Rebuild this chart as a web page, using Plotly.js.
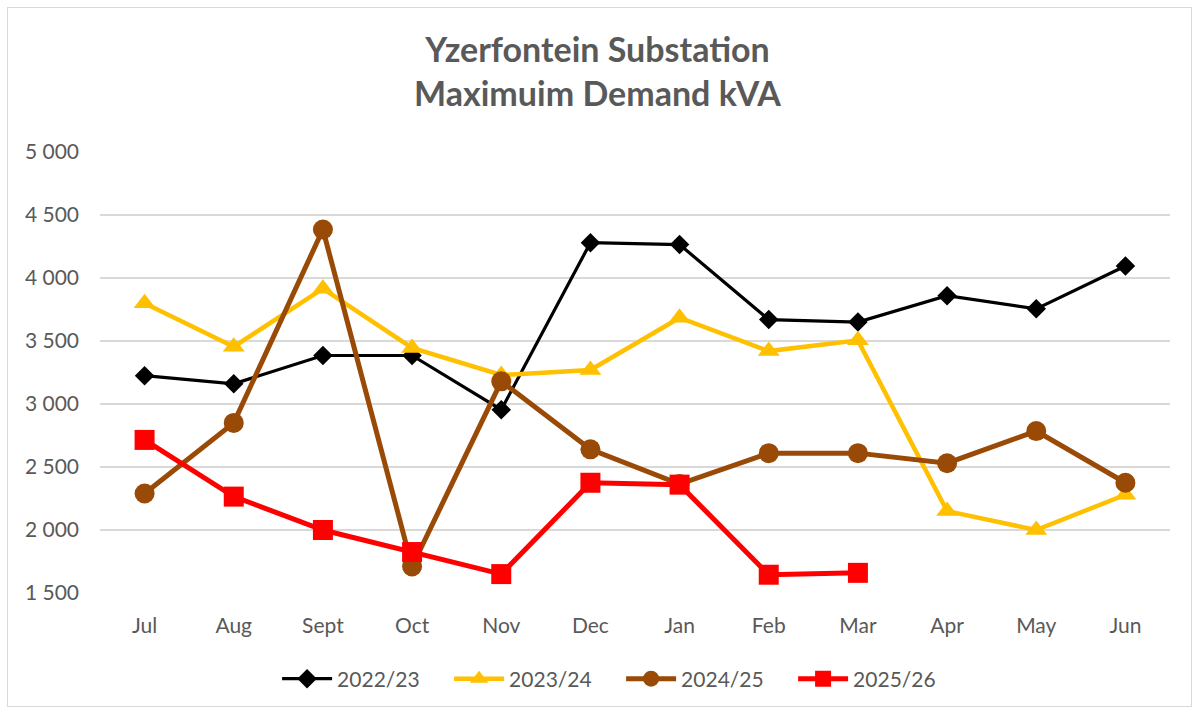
<!DOCTYPE html>
<html>
<head>
<meta charset="utf-8">
<script src="https://cdn.plot.ly/plotly-3.0.1.min.js"></script>
<style>
html,body{margin:0;padding:0;background:#fff;}
#wrap{position:absolute;left:7px;top:7px;width:1185px;height:700px;border:1px solid #d9d9d9;box-sizing:border-box;}
#chart{position:absolute;left:0;top:0;width:1195px;height:711px;}
</style>
</head>
<body>
<div id="wrap"></div>
<div id="chart"></div>
<script>
const months = ["Jul","Aug","Sept","Oct","Nov","Dec","Jan","Feb","Mar","Apr","May","Jun"];
const s2022 = [3225,3160,3385,3385,2955,4280,4265,3670,3650,3860,3755,4095];
const s2023 = [3800,3455,3915,3445,3230,3270,3685,3420,3505,2150,2000,2280];
const s2024 = [2290,2850,4385,1710,3180,2640,2365,2610,2610,2530,2785,2375];
const s2025 = [2715,2265,2000,1825,1650,2375,2360,1645,1660];
const seriesNames = ["2022/23","2023/24","2024/25","2025/26"];

const font = "Lato, 'Open Sans', 'Liberation Sans', sans-serif";
const traces = [
  {x: months, y: s2022, name: seriesNames[0], type:'scatter', mode:'lines+markers',
   line:{color:'#000000', width:3.2}, marker:{symbol:'diamond', size:15, color:'#000000'}},
  {x: months, y: s2023, name: seriesNames[1], type:'scatter', mode:'lines+markers',
   line:{color:'#FFC000', width:4.5}, marker:{symbol:'triangle-up', size:19, color:'#FFC000'}},
  {x: months.slice(0, s2024.length), y: s2024, name: seriesNames[2], type:'scatter', mode:'lines+markers',
   line:{color:'#994A06', width:5}, marker:{symbol:'circle', size:20, color:'#994A06'}},
  {x: months.slice(0, s2025.length), y: s2025, name: seriesNames[3], type:'scatter', mode:'lines+markers',
   line:{color:'#FF0000', width:5}, marker:{symbol:'square', size:20, color:'#FF0000'}}
];

const layout = {
  width: 1195, height: 711,
  paper_bgcolor: 'rgba(0,0,0,0)', plot_bgcolor: 'rgba(0,0,0,0)',
  margin: {l:100, r:25, t:152, b:118},
  separators: '. ',
  font: {family: font, color:'#595959', size:21},
  title: {text: '<b>Yzerfontein Substation<br>Maximuim Demand kVA</b>', x:0.5, xanchor:'center',
          yref:'container', y:0.913, yanchor:'top',
          font:{family: font, size:34, color:'#595959'}},
  xaxis: {type:'category', categoryorder:'array', categoryarray: months, range:[-0.5, 11.5], showgrid:false, zeroline:false,
          showline:false, ticks:'', tickfont:{size:21, color:'#595959'}, ticklabelstandoff: 18},
  yaxis: {range:[1500,5000], tickvals:[1500,2000,2500,3000,3500,4000,4500,5000], tickformat:',d',
          showgrid:true, gridcolor:'#d9d9d9', gridwidth:1.3, zeroline:false, showline:false, ticks:'',
          tickfont:{size:21, color:'#595959'}, ticklabelstandoff: 20},
  legend: {orientation:'h', x:0.487, xanchor:'center', y:-0.195, yanchor:'middle', font:{size:21, color:'#595959'},
           itemwidth: 50, entrywidth: 107, traceorder:'normal'},
  showlegend: true
};
Plotly.newPlot('chart', traces, layout, {displayModeBar:false, staticPlot:true});
</script>
</body>
</html>
